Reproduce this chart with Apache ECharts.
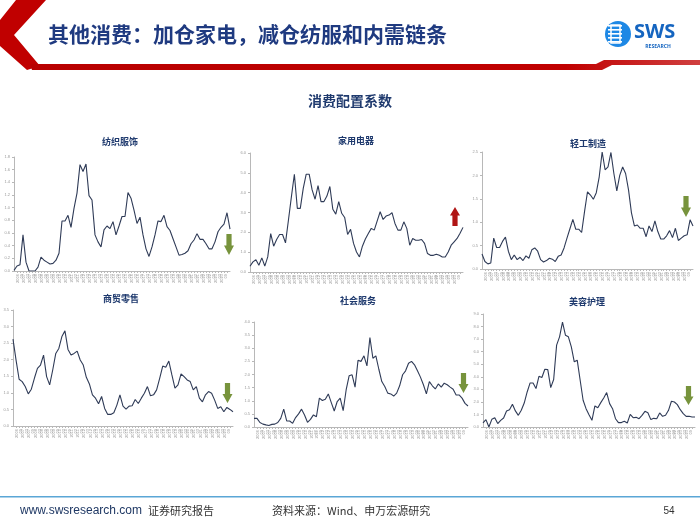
<!DOCTYPE html>
<html>
<head>
<meta charset="utf-8">
<script src="https://cdn.jsdelivr.net/npm/echarts@6/dist/echarts.min.js"></script>
<style>
html,body{margin:0;padding:0;background:#fff;}
#c{width:700px;height:525px;}
</style>
</head>
<body>
<div id="c"></div>
<script>
// ---- data ----
const categories = [
'2006-03','2006-06','2006-09','2006-12','2007-03','2007-06','2007-09','2007-12',
'2008-03','2008-06','2008-09','2008-12','2009-03','2009-06','2009-09','2009-12',
'2010-03','2010-06','2010-09','2010-12','2011-03','2011-06','2011-09','2011-12',
'2012-03','2012-06','2012-09','2012-12','2013-03','2013-06','2013-09','2013-12',
'2014-03','2014-06','2014-09','2014-12','2015-03','2015-06','2015-09','2015-12',
'2016-03','2016-06','2016-09','2016-12','2017-03','2017-06','2017-09','2017-12',
'2018-03','2018-06','2018-09','2018-12','2019-03','2019-06','2019-09','2019-12',
'2020-03','2020-06','2020-09','2020-12','2021-03','2021-06','2021-09','2021-12',
'2022-03','2022-06','2022-09','2022-12','2023-03','2023-06','2023-09','2023-12',
'2024-03'
];

const textileApparel = [0.01,0.08,0.10,0.57,0.14,0.00,0.00,0.00,0.06,0.22,0.17,0.14,0.11,0.12,0.17,0.28,
0.79,0.79,0.88,0.69,0.99,1.23,1.68,1.57,1.69,1.19,1.12,0.57,0.46,0.38,0.65,0.71,0.67,0.78,0.57,0.71,
0.86,0.86,1.24,1.15,0.96,0.75,0.85,0.57,0.35,0.23,0.38,0.57,0.79,0.78,0.88,0.70,0.64,0.51,0.38,0.25,
0.26,0.28,0.32,0.43,0.49,0.59,0.50,0.50,0.43,0.35,0.35,0.46,0.62,0.69,0.74,0.92,0.66];

const homeAppliances = [0.29,0.51,0.62,0.34,0.71,0.30,0.76,1.94,1.30,1.64,1.89,1.89,1.47,2.62,3.80,4.93,
3.21,3.21,4.22,4.93,4.93,4.14,3.67,4.36,3.55,3.55,3.83,4.31,3.16,2.92,3.55,2.96,2.75,1.89,2.15,1.44,
1.01,0.76,1.30,1.66,1.94,2.20,2.11,2.58,3.04,2.65,2.82,2.87,2.99,2.45,2.11,2.11,2.53,2.20,1.35,1.69,
1.60,1.60,1.64,1.44,0.93,0.84,0.84,0.90,0.84,0.76,0.76,1.01,1.35,1.52,1.69,1.95,2.25];

const lightManufacturing = [0.32,0.16,0.11,0.13,0.66,0.46,0.46,0.59,0.68,0.38,0.20,0.30,0.20,0.25,0.18,0.28,
0.23,0.41,0.45,0.38,0.20,0.15,0.18,0.23,0.21,0.16,0.27,0.30,0.45,0.66,0.86,1.06,0.85,0.85,0.78,1.23,
1.65,1.58,1.49,1.63,1.97,2.50,2.12,2.18,2.49,2.04,1.67,2.00,2.18,2.04,1.69,1.20,0.92,0.94,0.87,0.87,
0.69,0.92,0.80,1.03,0.80,0.64,0.64,0.71,0.82,0.67,0.87,0.61,0.66,0.71,0.73,1.05,0.92];

const retailTrade = [2.62,1.99,1.41,1.34,1.19,0.97,1.11,1.44,1.74,1.84,2.14,1.49,1.24,1.69,2.19,2.34,
2.70,2.87,2.31,2.14,2.19,2.26,1.99,1.84,1.47,1.27,0.94,0.84,0.67,0.89,0.53,0.35,0.35,0.40,0.63,0.94,
0.60,0.51,0.60,0.61,0.80,0.68,0.84,0.99,1.19,0.91,0.94,1.09,1.44,1.81,1.77,1.96,1.54,1.14,1.24,1.57,
1.49,1.39,1.34,1.09,1.19,0.84,0.73,0.94,1.04,0.99,0.78,0.53,0.58,0.43,0.56,0.50,0.43];

const socialServices = [0.33,0.33,0.17,0.11,0.08,0.06,0.10,0.11,0.17,0.33,0.68,0.23,0.23,0.14,0.36,0.50,
0.68,0.46,0.18,0.29,0.46,0.39,1.10,1.01,1.06,1.26,0.93,0.61,0.97,1.10,0.62,1.41,1.95,1.99,1.52,2.54,
2.50,2.71,2.33,3.41,2.62,2.71,2.20,1.73,1.54,1.29,1.26,1.18,1.29,1.57,1.99,2.14,2.43,2.50,2.37,2.14,
1.90,1.61,1.26,1.73,1.57,1.45,1.64,1.52,1.67,1.61,1.52,1.44,1.22,1.22,1.10,0.90,0.80];

const beautyCare = [0.32,0.59,0.00,0.61,0.74,0.27,0.53,0.72,1.28,1.38,1.81,1.28,0.93,1.33,1.91,2.79,
3.51,3.51,3.06,4.04,3.94,4.60,4.57,3.14,3.78,6.52,7.18,8.35,7.31,7.18,6.38,5.19,5.32,3.72,2.13,1.46,
0.98,0.53,1.68,1.54,1.94,2.31,2.74,1.86,1.46,0.66,0.35,0.35,0.45,0.32,1.01,0.74,0.77,0.66,0.93,1.25,
1.14,0.59,0.69,0.66,1.12,0.85,0.93,1.33,2.05,1.99,1.78,1.38,1.06,0.85,0.85,0.80,0.80];

const panelTitles = ['纺织服饰','家用电器','轻工制造','商贸零售','社会服务','美容护理'];
const panelSeries = [textileApparel, homeAppliances, lightManufacturing, retailTrade, socialServices, beautyCare];
const yMax = [1.8, 6, 2.5, 3.5, 4, 9];
const yStep = [0.2, 1, 0.5, 0.5, 0.5, 1];
const mainTitle = '其他消费：加仓家电，减仓纺服和内需链条';
const chartTitle = '消费配置系数';

// ---- layout ----
const grids = [
  {left:14, top:157, width:216, height:114},
  {left:250, top:153, width:213, height:119},
  {left:482, top:152, width:211, height:117},
  {left:13, top:310, width:220, height:116},
  {left:254, top:322, width:214, height:105},
  {left:483, top:314, width:212, height:113}
];
const titlePos = [[120,142],[356,141],[588,144],[121,299],[358,301],[587,302]];
// arrows: cx, y1, y2, direction, colour
const arrows = [
  [229,234,255,'down','#77933c'],
  [455,207,226,'up','#b01515'],
  [686,196,217,'down','#77933c'],
  [227.5,383,403,'down','#77933c'],
  [463.5,373,393,'down','#77933c'],
  [688.5,386,405,'down','#77933c']
];

const chart = echarts.init(document.getElementById('c'));
const axisGray = '#b8b8b8';
const labelGray = '#9a9a9a';

const xAxes = [], yAxes = [], series = [];
grids.forEach((g,i)=>{
  xAxes.push({
    type:'category', gridIndex:i, data:categories, boundaryGap:false,
    axisLine:{lineStyle:{color:axisGray,width:1}},
    axisTick:{show:true,interval:0,length:2,lineStyle:{color:axisGray}},
    axisLabel:{interval:1,rotate:90,fontSize:4,lineHeight:4,color:labelGray,margin:3,
      formatter:v=>v.replace('-','\n')}
  });
  yAxes.push({
    type:'value', gridIndex:i, min:0, max:yMax[i], interval:yStep[i],
    splitLine:{show:false},
    axisLine:{show:true,lineStyle:{color:axisGray,width:1}},
    axisTick:{show:true,length:2,lineStyle:{color:axisGray}},
    axisLabel:{fontSize:4,color:labelGray,margin:4,formatter:v=>v.toFixed(1)}
  });
  series.push({
    type:'line', xAxisIndex:i, yAxisIndex:i, data:panelSeries[i],
    symbol:'none', lineStyle:{color:'#2f3b57',width:1.1}, animation:false
  });
});

const graphics = [];
// header chevron
graphics.push({type:'polygon',shape:{points:[[16,0],[46,0],[14,35],[40,66],[27,70],[0,46],[0,20]]},
  style:{fill:'#c00000'}});
// header red line
graphics.push({type:'polygon',shape:{points:[[30,64],[596,64],[604,60],[700,60],[700,65],[612,65],[602,70],[32,70]]},
  style:{fill:new echarts.graphic.LinearGradient(0,0,1,0,[{offset:0,color:'#b80000'},{offset:0.8,color:'#c00000'},{offset:1,color:'#d04040'}])}});
// header title
graphics.push({type:'text',style:{text:mainTitle,x:48,y:34,fill:'#1f3a80',
  font:'bold 21px "Noto Sans CJK SC"',align:'left',verticalAlign:'middle'}});
// logo
graphics.push({type:'circle',shape:{cx:618,cy:34,r:13},style:{fill:'#1e88e5'}});
[26,30,34,38,42].forEach(yy=>{
  graphics.push({type:'rect',shape:{x:608,y:yy-1,width:14,height:1.6},style:{fill:'#ffffff'}});
});
graphics.push({type:'rect',shape:{x:611,y:25,width:9,height:18},style:{fill:'none',stroke:'#ffffff',lineWidth:1.5}});
graphics.push({type:'text',style:{text:'SWS',x:634,y:32,fill:'#1565c0',font:'bold 20px "Open Sans"',align:'left',verticalAlign:'middle'}});
graphics.push({type:'text',style:{text:'RESEARCH',x:658,y:47,fill:'#1565c0',font:'bold 5px "Open Sans"',align:'center',verticalAlign:'middle'}});
// chart title
graphics.push({type:'text',style:{text:chartTitle,x:350,y:101,fill:'#1f3a6e',
  font:'bold 14px "Noto Sans CJK SC"',align:'center',verticalAlign:'middle'}});
// panel titles
panelTitles.forEach((t,i)=>{
  graphics.push({type:'text',style:{text:t,x:titlePos[i][0],y:titlePos[i][1],fill:'#1f3a6e',
    font:'bold 9px "Noto Sans CJK SC"',align:'center',verticalAlign:'middle'}});
});
// arrows
arrows.forEach(a=>{
  const [cx,y1,y2,dir,col]=a;
  const hw=5, sw=2.6, len=y2-y1, hl=len*0.45;
  let pts;
  if(dir==='down'){
    const hy=y2-hl;
    pts=[[cx-sw,y1],[cx+sw,y1],[cx+sw,hy],[cx+hw,hy],[cx,y2],[cx-hw,hy],[cx-sw,hy]];
  } else {
    const hy=y1+hl;
    pts=[[cx-sw,y2],[cx+sw,y2],[cx+sw,hy],[cx+hw,hy],[cx,y1],[cx-hw,hy],[cx-sw,hy]];
  }
  graphics.push({type:'polygon',shape:{points:pts},style:{fill:col}});
});
// footer line
graphics.push({type:'rect',shape:{x:0,y:496,width:700,height:1.5},style:{fill:'#5aa6d6'}});
graphics.push({type:'text',style:{text:'www.swsresearch.com',x:20,y:511,fill:'#1f3864',font:'12px "Liberation Sans"',align:'left',verticalAlign:'middle'}});
graphics.push({type:'text',style:{text:'证券研究报告',x:148,y:511,fill:'#333333',font:'11px "Noto Sans CJK SC"',align:'left',verticalAlign:'middle'}});
graphics.push({type:'text',style:{text:'资料来源：Wind、申万宏源研究',x:272,y:511,fill:'#333333',font:'11px "Noto Sans CJK SC"',align:'left',verticalAlign:'middle'}});
graphics.push({type:'text',style:{text:'54',x:669,y:511,fill:'#333333',font:'10px "Liberation Sans"',align:'center',verticalAlign:'middle'}});

chart.setOption({
  backgroundColor:'#ffffff',
  animation:false,
  grid:grids,
  xAxis:xAxes,
  yAxis:yAxes,
  series:series,
  graphic:graphics
});
</script>
</body>
</html>
